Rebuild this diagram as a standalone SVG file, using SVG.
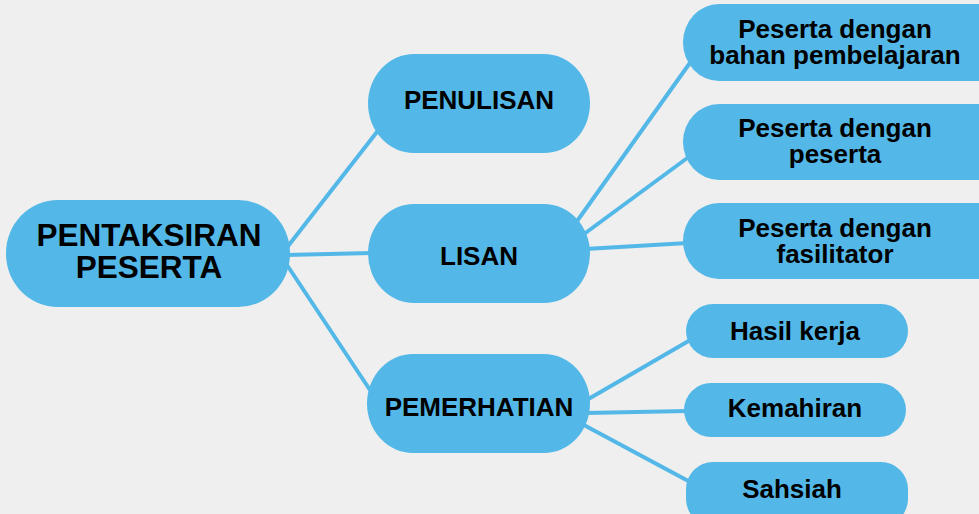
<svg xmlns="http://www.w3.org/2000/svg" width="979" height="514" viewBox="0 0 979 514">
  <style>
    .n { fill: #53b8e8; }
    .t { font-family: "Liberation Sans", Arial, sans-serif; font-weight: bold; font-size: 26px; fill: #000; text-anchor: middle; }
    .r { font-size: 31.5px; }
    .c line { stroke: #53b8e8; stroke-width: 4; stroke-linecap: butt; }
  </style>
  <rect width="979" height="514" fill="#efefef"/>
  <g id="connectors" class="c">
    <line x1="285" y1="250" x2="380" y2="128"/>
    <line x1="285" y1="255" x2="372" y2="253"/>
    <line x1="285" y1="262" x2="372" y2="393"/>
    <line x1="575" y1="224" x2="692" y2="60"/>
    <line x1="580" y1="237" x2="690" y2="156"/>
    <line x1="585" y1="249" x2="688" y2="243"/>
    <line x1="585" y1="401" x2="692" y2="339"/>
    <line x1="585" y1="413" x2="688" y2="411"/>
    <line x1="582" y1="424" x2="692" y2="483"/>
  </g>
  <g id="root">
    <rect class="n" x="6" y="200" width="284" height="107" rx="52" ry="53"/>
    <text class="t r" x="149" y="246">PENTAKSIRAN</text>
    <text class="t r" x="149" y="278">PESERTA</text>
  </g>
  <g id="penulisan">
    <rect class="n" x="368" y="54" width="222" height="99" rx="46" ry="49.5"/>
    <text class="t" x="479" y="109">PENULISAN</text>
  </g>
  <g id="lisan">
    <rect class="n" x="368" y="204" width="222" height="99" rx="46" ry="49.5"/>
    <text class="t" x="479" y="265">LISAN</text>
  </g>
  <g id="pemerhatian">
    <rect class="n" x="367" y="354" width="223" height="99" rx="46" ry="49.5"/>
    <text class="t" x="479" y="416">PEMERHATIAN</text>
  </g>
  <g id="bahan">
    <rect class="n" x="683" y="4" width="330" height="77" rx="36" ry="38.5"/>
    <text class="t" x="835" y="38">Peserta dengan</text>
    <text class="t" x="835" y="64">bahan pembelajaran</text>
  </g>
  <g id="peserta">
    <rect class="n" x="683" y="104" width="330" height="76" rx="36" ry="38"/>
    <text class="t" x="835" y="137">Peserta dengan</text>
    <text class="t" x="835" y="163">peserta</text>
  </g>
  <g id="fasilitator">
    <rect class="n" x="683" y="203" width="330" height="76" rx="36" ry="38"/>
    <text class="t" x="835" y="237">Peserta dengan</text>
    <text class="t" x="835" y="263">fasilitator</text>
  </g>
  <g id="hasil">
    <rect class="n" x="686" y="304" width="222" height="54" rx="27" ry="27"/>
    <text class="t" x="795" y="340">Hasil kerja</text>
  </g>
  <g id="kemahiran">
    <rect class="n" x="684" y="383" width="222" height="54" rx="27" ry="27"/>
    <text class="t" x="795" y="417">Kemahiran</text>
  </g>
  <g id="sahsiah">
    <rect class="n" x="686" y="462" width="222" height="64" rx="27" ry="27"/>
    <text class="t" x="792" y="498">Sahsiah</text>
  </g>
</svg>
